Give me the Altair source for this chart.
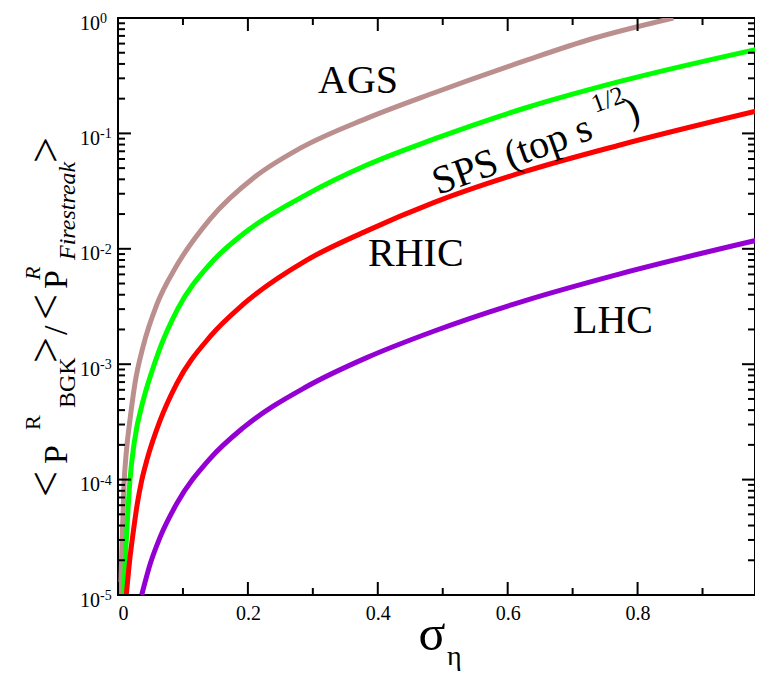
import altair as alt
import pandas as pd

SERIF = "Liberation Serif"

# ---- data ----
series_names = ["AGS", "SPS", "RHIC", "LHC"]
series_colors = ["#bc8f8f", "#00ff00", "#ff0000", "#9400d3"]

ags_sigma = [0.004, 0.0065, 0.0092, 0.013, 0.0185, 0.026, 0.039, 0.06, 0.09, 0.142, 0.21, 0.28, 0.383, 0.486, 0.627, 0.73, 0.855]
ags_value = [1.0e-5, 3.16e-5, 8.9e-5, 1.78e-4, 3.31e-4, 6.76e-4, 1.45e-3, 3.31e-3, 7.08e-3, 1.82e-2, 4.17e-2, 7.41e-2, 0.135, 0.224, 0.427, 0.661, 1.0]

sps_sigma = [0.0092, 0.0108, 0.0135, 0.0185, 0.025, 0.039, 0.05, 0.0647, 0.092, 0.142, 0.193, 0.29, 0.383, 0.486, 0.627, 0.773, 0.993]
sps_value = [1.0e-5, 1.78e-5, 3.55e-5, 1.0e-4, 2.09e-4, 4.9e-4, 7.94e-4, 1.38e-3, 3.02e-3, 7.41e-3, 1.35e-2, 2.95e-2, 5.32e-2, 8.91e-2, 0.166, 0.282, 0.55]

rhic_sigma = [0.0128, 0.018, 0.0236, 0.03, 0.036, 0.045, 0.0647, 0.0903, 0.142, 0.193, 0.29, 0.383, 0.486, 0.627, 0.773, 0.993]
rhic_value = [1.0e-5, 2.0e-5, 3.55e-5, 6.31e-5, 9.55e-5, 1.51e-4, 3.24e-4, 6.76e-4, 1.74e-3, 3.31e-3, 7.94e-3, 1.43e-2, 2.51e-2, 4.68e-2, 7.94e-2, 0.161]

lhc_sigma = [0.0365, 0.05, 0.0647, 0.0903, 0.1417, 0.193, 0.29, 0.383, 0.486, 0.627, 0.773, 0.993]
lhc_value = [1.0e-5, 1.89e-5, 3.16e-5, 6.17e-5, 1.52e-4, 2.82e-4, 6.37e-4, 1.14e-3, 1.93e-3, 3.56e-3, 6.07e-3, 1.22e-2]

x_major = [0.0, 0.2, 0.4, 0.6, 0.8]
x_minor = [0.1, 0.3, 0.5, 0.7, 0.9]
y_decades = [1e-5, 1e-4, 1e-3, 1e-2, 1e-1, 1e0]
y_exponents = ["-5", "-4", "-3", "-2", "-1", "0"]
y_minor = [k * d for d in [1e-5, 1e-4, 1e-3, 1e-2, 1e-1] for k in range(2, 10)]

# in-plot labels (sigma, value)
lab_text = ["AGS", "RHIC", "LHC"]
lab_sigma = [0.308, 0.385, 0.7005]
lab_value = [0.224, 0.0071, 0.00186]

W, H = 637, 577
XMAX = 0.9808

rows = []
for name, sig, val in zip(series_names,
                          [ags_sigma, sps_sigma, rhic_sigma, lhc_sigma],
                          [ags_value, sps_value, rhic_value, lhc_value]):
    for s, v in zip(sig, val):
        rows.append({"series": name, "sigma": s, "value": v})
df = pd.DataFrame(rows)

xs = alt.Scale(domain=[0, XMAX], nice=False, zero=False)
ys = alt.Scale(type="log", domain=[1e-5, 1], nice=False)
XAX = alt.Axis(values=x_major, grid=False, ticks=False, domain=False, tickSize=0,
               title=None, labelFont=SERIF, labelFontSize=20, labelColor="black",
               labelPadding=8,
               labelExpr="datum.value == 0 ? '0' : format(datum.value, '.1f')")

def X(field="sigma"):
    return alt.X(f"{field}:Q", scale=xs, axis=XAX)

def Y():
    return alt.Y("value:Q", scale=ys, axis=None)

lines = alt.Chart(df).mark_line(strokeWidth=5, clip=True, interpolate="monotone").encode(
    x=X(), y=Y(),
    color=alt.Color("series:N", scale=alt.Scale(domain=series_names, range=series_colors), legend=None),
)

ymaj = pd.DataFrame({"value": y_decades, "exp": y_exponents})
ymin = pd.DataFrame({"value": y_minor})
xmaj = pd.DataFrame({"sigma": x_major})
xmin = pd.DataFrame({"sigma": x_minor})

def yticks(data, length, right=False):
    x0, x1 = (W - length, W) if right else (0, length)
    return alt.Chart(data).mark_rule(color="black", strokeWidth=2).encode(
        y=Y(), x=alt.value(x0), x2=alt.value(x1))

def xticks(data, length, top=False):
    y0, y1 = (0, length) if top else (H - length, H)
    return alt.Chart(data).mark_rule(color="black", strokeWidth=2).encode(
        x=X(), y=alt.value(y0), y2=alt.value(y1))

ticks = [yticks(ymaj, 13), yticks(ymin, 7), yticks(ymaj, 13, True), yticks(ymin, 7, True),
         xticks(xmaj, 13), xticks(xmin, 7), xticks(xmaj, 13, True), xticks(xmin, 7, True)]

ylab10 = alt.Chart(ymaj).mark_text(font=SERIF, fontSize=20, align="right", baseline="alphabetic",
                                   dy=11.5, color="black", text="10").encode(
    y=Y(), x=alt.value(-18))
ylabexp = alt.Chart(ymaj).mark_text(font=SERIF, fontSize=14, align="left", baseline="alphabetic",
                                    dy=5, color="black").encode(
    y=Y(), x=alt.value(-18), text="exp:N")

labels = alt.Chart(pd.DataFrame({"t": lab_text, "sigma": lab_sigma, "value": lab_value})).mark_text(
    font=SERIF, fontSize=40, align="left", baseline="alphabetic", color="black").encode(
    x=X(), y=Y(), text="t:N")

def rot_text(txt, sigma, value, size):
    return alt.Chart(pd.DataFrame({"t": [txt], "sigma": [sigma], "value": [value]})).mark_text(
        font=SERIF, fontSize=size, align="left", baseline="alphabetic", angle=340, color="black").encode(
        x=X(), y=Y(), text="t:N")

sps_label = [rot_text("SPS (top s", 0.4927, 0.0292, 40),
             rot_text("1/2", 0.7344, 0.150, 26),
             rot_text(")", 0.788, 0.118, 40)]

def px_text(txt, x, y, size, angle=0, style="normal", align="left"):
    kw = dict(font=SERIF, fontSize=size, align=align, baseline="alphabetic", color="black",
              fontStyle=style)
    if angle:
        kw["angle"] = angle
    return alt.Chart(pd.DataFrame({"t": [txt]})).mark_text(**kw).encode(
        x=alt.value(x), y=alt.value(y), text="t:N")

ytitle = [px_text("<", -56.6, 479, 46, 270),
          px_text("P", -51, 446, 34, 270),
          px_text("R", -78, 412, 22, 270),
          px_text("BGK", -43, 390, 24, 270),
          px_text(">", -56.6, 345, 46, 270),
          px_text("/", -51, 317, 34, 270),
          px_text("<", -56.6, 302, 46, 270),
          px_text("P", -51, 271, 34, 270),
          px_text("R", -78, 262, 22, 270, "italic"),
          px_text("Firestreak", -43, 242, 24, 270, "italic"),
          px_text(">", -56.6, 145, 46, 270)]

xtitle = [px_text("σ", 314, 632, 50, align="center"),
          px_text("η", 329, 647, 28)]

chart = alt.layer(lines, *ticks, ylab10, ylabexp, labels, *sps_label, *ytitle, *xtitle).properties(
    width=W, height=H,
    padding={"left": 110, "top": 10, "right": 0, "bottom": 79},
    autosize=alt.AutoSizeParams(type="none"),
).configure_view(stroke="black", strokeWidth=2)

chart.save("out.html", embed_options={"renderer": "svg", "actions": False})
